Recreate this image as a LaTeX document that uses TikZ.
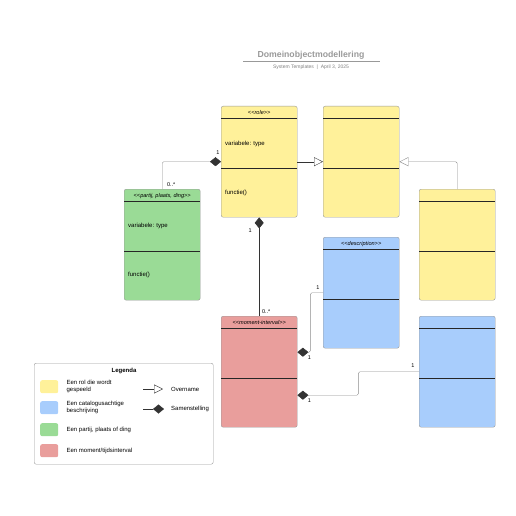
\documentclass[tikz,border=0pt]{standalone}
\usepackage{fontspec}
\setmainfont{Liberation Sans}
\usetikzlibrary{arrows.meta, positioning}
\definecolor{rolfill}{HTML}{FFF19A}
\definecolor{descfill}{HTML}{A8CDFC}
\definecolor{ppdfill}{HTML}{9ADB96}
\definecolor{mifill}{HTML}{E99E9C}
\definecolor{rim}{HTML}{9A9A9A}
\newcommand{\stereo}[1]{<\kern0pt<#1>\kern0pt>}
\begin{document}
\begin{tikzpicture}[x=1pt, y=-1pt,
        cls/.style={draw=rim, rounded corners=2pt, minimum width=76pt, minimum height=111pt, inner sep=0pt, anchor=north west},
        sep/.style={line width=0.6pt, black!85},
        hdr/.style={font=\fontsize{5.6}{6}\selectfont\itshape, inner sep=0pt},
        txt/.style={font=\fontsize{6}{7}\selectfont, inner sep=0pt, anchor=west},
        lbl/.style={font=\fontsize{5.5}{6}\selectfont, inner sep=0pt},
        comp/.style={{Diamond[length=11pt, width=9pt, color=black!80]}-, black!80},
        inh/.style={-{Triangle[open, length=9pt, width=9pt, fill=white]}, black!80},
        swatch/.style={draw=none, rounded corners=2pt, minimum width=18pt, minimum height=13pt, inner sep=0pt, anchor=north west}
      ]
        \useasboundingbox (0,0) rectangle (516,516);
        % title
        \node[font=\fontsize{8.7}{10}\selectfont\bfseries, text=gray!80] (title) at (311,55) {Domeinobjectmodellering};
        \draw[gray!80, line width=0.6pt] (243,61.5) -- (380,61.5);
        \node[font=\fontsize{5}{6}\selectfont, text=gray] (sub) at (311,67.5) {System Templates \ \textbar\ \ April 3, 2025};

        % classes
        \node[cls, fill=rolfill] (role) at (221,106) {};
        \node[cls, fill=rolfill] (rol2) at (323,106) {};
        \node[cls, fill=rolfill] (rol3) at (419,189) {};
        \node[cls, fill=ppdfill] (ppd) at (124,189) {};
        \node[cls, fill=descfill] (desc) at (323,237) {};
        \node[cls, fill=descfill] (desc2) at (419,316) {};
        \node[cls, fill=mifill] (mi) at (221,316) {};
        \foreach \n in {role, rol2, rol3, ppd, desc, desc2, mi} {
          \draw[sep] ([yshift=-12.5pt]\n.north west) -- ([yshift=-12.5pt]\n.north east);
          \draw[sep] ([yshift=-62pt]\n.north west) -- ([yshift=-62pt]\n.north east);
        }
        \node[hdr, below=4pt of role.north] {\stereo{role}};
        \node[hdr, below=4pt of ppd.north] {\stereo{partij, plaats, ding}};
        \node[hdr, below=4pt of desc.north] {\stereo{description}};
        \node[hdr, below=4pt of mi.north] {\stereo{moment-interval}};
        \node[txt] at ([xshift=4pt, yshift=-38pt]role.north west) {variabele: type};
        \node[txt] at ([xshift=4pt, yshift=-87pt]role.north west) {functie()};
        \node[txt] at ([xshift=4pt, yshift=-37pt]ppd.north west) {variabele: type};
        \node[txt] at ([xshift=4pt, yshift=-86pt]ppd.north west) {functie()};

        % connectors
        \draw[inh] (role.east) -- (rol2.west);
        \draw[inh, rounded corners=1.5pt, gray!90] (rol3.north) |- (rol2.east);
        \draw[comp, rounded corners=1.5pt, gray!90] (role.west) -| (ppd.north);
        \draw[comp, line width=0.6pt] (role.south) -- (mi.north);
        \coordinate (mi1) at ([yshift=19.5pt]mi.east);
        \coordinate (mi2) at ([yshift=-23.5pt]mi.east);
        \draw[comp, rounded corners=1.5pt, gray!90] (mi1) -- ++(13,0) |- (desc.west);
        \draw[comp, rounded corners=1.5pt, gray!90] (mi2) -- ++(61,0) |- (desc2.west);
        \node[lbl] at ([xshift=-3pt, yshift=9pt]role.west) {1};
        \node[lbl] at ([xshift=9pt, yshift=4pt]ppd.north) {0..*};
        \node[lbl] at ([xshift=-9pt, yshift=-13pt]role.south) {1};
        \node[lbl] at ([xshift=7pt, yshift=4pt]mi.north) {0..*};
        \node[lbl] at ([xshift=-5pt, yshift=5pt]desc.west) {1};
        \node[lbl] at ([xshift=12pt, yshift=-5pt]mi1) {1};
        \node[lbl] at ([xshift=-6pt, yshift=6pt]desc2.west) {1};
        \node[lbl] at ([xshift=12pt, yshift=-5pt]mi2) {1};

        % legend
        \node[draw=rim, rounded corners=2pt, minimum width=179pt, minimum height=101pt, inner sep=0pt, anchor=north west] (legend) at (34,363) {};
        \node[font=\fontsize{6}{7}\selectfont\bfseries, inner sep=0pt] (legtitle) at (124,370.5) {Legenda};
        \node[swatch, fill=rolfill] (sw1) at (40,380) {};
        \node[swatch, fill=descfill] (sw2) at (40,401) {};
        \node[swatch, fill=ppdfill] (sw3) at (40,423) {};
        \node[swatch, fill=mifill] (sw4) at (40,444) {};
        \node[txt, align=left, right=8pt of sw1] {Een rol die wordt\\gespeeld};
        \node[txt, align=left, right=8pt of sw2] {Een catalogusachtige\\beschrijving};
        \node[txt, right=8pt of sw3] {Een partij, plaats of ding};
        \node[txt, right=8pt of sw4] {Een moment/tijdsinterval};
        \coordinate (ov1) at (143,389);
        \coordinate (ov2) at (163,389);
        \coordinate (sa1) at (143,409);
        \coordinate (sa2) at (164,409);
        \draw[inh] (ov1) -- (ov2);
        \draw[comp] (sa2) -- (sa1);
        \node[txt] at (171,389) {Overname};
        \node[txt] at (171,409) {Samenstelling};
      \end{tikzpicture}
\end{document}
